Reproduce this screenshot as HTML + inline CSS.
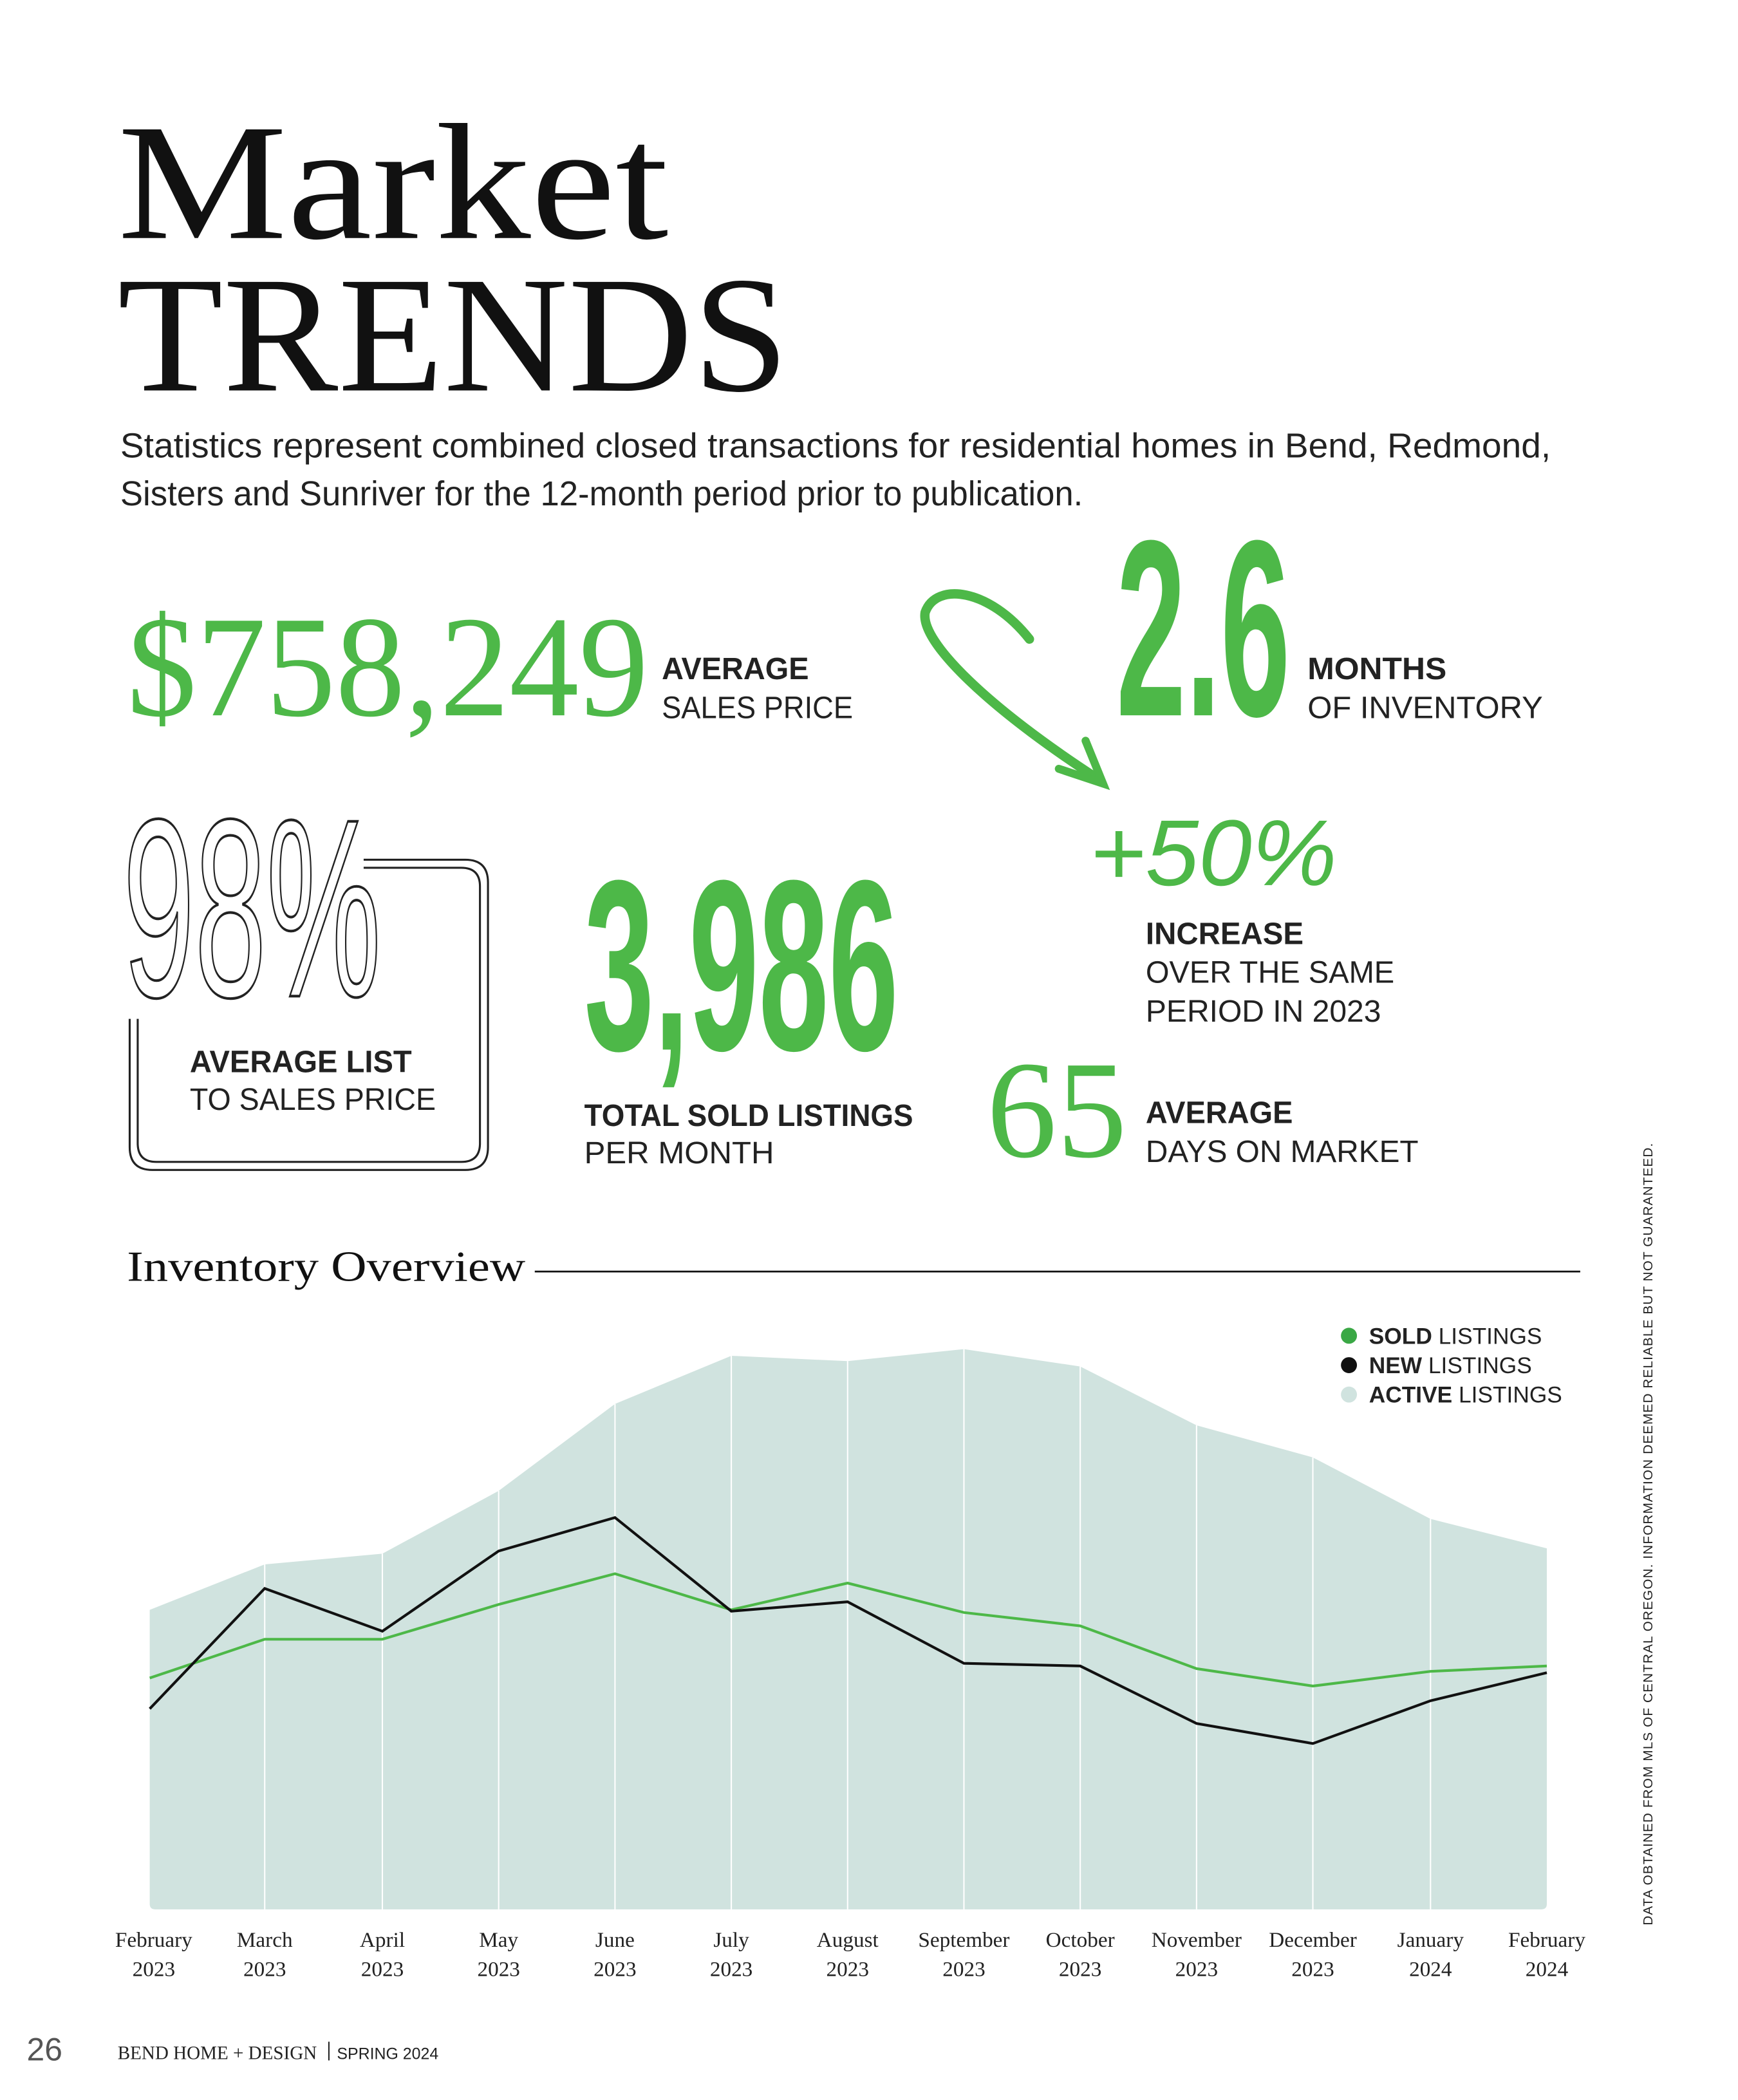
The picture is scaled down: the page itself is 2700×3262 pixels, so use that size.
<!DOCTYPE html>
<html><head><meta charset="utf-8"><style>
html,body{margin:0;padding:0;background:#fff}
svg{display:block}
.sans{font-family:"Liberation Sans",sans-serif}
.serif{font-family:"Liberation Serif",serif}
</style></head><body>
<svg width="2700" height="3262" viewBox="0 0 1300 1570.6" xmlns="http://www.w3.org/2000/svg">
<rect width="1300" height="1571" fill="#fff"/>
<!-- Title -->
<text x="88" y="178" class="serif" font-size="124" fill="#111" textLength="412" lengthAdjust="spacingAndGlyphs">Market</text>
<text x="88" y="292" class="serif" font-size="124" fill="#111" textLength="502" lengthAdjust="spacingAndGlyphs">TRENDS</text>
<text x="90" y="342" class="sans" font-size="26" fill="#222" textLength="1070" lengthAdjust="spacingAndGlyphs">Statistics represent combined closed transactions for residential homes in Bend, Redmond,</text>
<text x="90" y="378" class="sans" font-size="26" fill="#222" textLength="720" lengthAdjust="spacingAndGlyphs">Sisters and Sunriver for the 12-month period prior to publication.</text>

<!-- price -->
<text x="95" y="535" class="serif" font-size="108" fill="#4db848" textLength="390" lengthAdjust="spacingAndGlyphs">$758,249</text>
<text x="495" y="508" class="sans" font-size="23" font-weight="bold" fill="#222" textLength="110" lengthAdjust="spacingAndGlyphs">AVERAGE</text>
<text x="495" y="537" class="sans" font-size="23" fill="#222" textLength="143" lengthAdjust="spacingAndGlyphs">SALES PRICE</text>

<!-- 2.6 -->
<text x="835" y="535" class="sans" font-size="188" font-weight="bold" fill="#4db848" textLength="130" lengthAdjust="spacingAndGlyphs">2.6</text>
<text x="978" y="508" class="sans" font-size="23" font-weight="bold" fill="#222" textLength="104" lengthAdjust="spacingAndGlyphs">MONTHS</text>
<text x="978" y="537" class="sans" font-size="23" fill="#222" textLength="176" lengthAdjust="spacingAndGlyphs">OF INVENTORY</text>

<!-- arrow -->
<path d="M770,478 C740,440 700,435 692,458 C688,480 740,530 822,583" fill="none" stroke="#4db848" stroke-width="7" stroke-linecap="round"/>
<path d="M792,575 L825,586 L812,554" fill="none" stroke="#4db848" stroke-width="6" stroke-linecap="round"/>

<!-- +50% -->
<text x="815" y="662" class="sans" font-size="70" font-style="italic" fill="#4db848" textLength="185" lengthAdjust="spacingAndGlyphs">+50%</text>
<text x="857" y="706" class="sans" font-size="23" font-weight="bold" fill="#222" textLength="118" lengthAdjust="spacingAndGlyphs">INCREASE</text>
<text x="857" y="735" class="sans" font-size="23" fill="#222" textLength="186" lengthAdjust="spacingAndGlyphs">OVER THE SAME</text>
<text x="857" y="764" class="sans" font-size="23" fill="#222" textLength="176" lengthAdjust="spacingAndGlyphs">PERIOD IN 2023</text>

<!-- 98% box -->
<path d="M272,643 H348 Q365,643 365,660 V858 Q365,875 348,875 H114 Q97,875 97,858 V762" fill="none" stroke="#222" stroke-width="1.5"/>
<path d="M272,649 H345 Q359,649 359,663 V855 Q359,869 345,869 H117 Q103,869 103,855 V762" fill="none" stroke="#222" stroke-width="1.5"/>
<text x="92" y="745" class="sans" font-size="190" fill="#fff" stroke="#222" stroke-width="2" textLength="193" lengthAdjust="spacingAndGlyphs">98%</text>
<text x="142" y="802" class="sans" font-size="23" font-weight="bold" fill="#222" textLength="166" lengthAdjust="spacingAndGlyphs">AVERAGE LIST</text>
<text x="142" y="830" class="sans" font-size="23" fill="#222" textLength="184" lengthAdjust="spacingAndGlyphs">TO SALES PRICE</text>

<!-- 3,986 -->
<text x="437" y="785" class="sans" font-size="182" font-weight="bold" fill="#4db848" textLength="235" lengthAdjust="spacingAndGlyphs">3,986</text>
<text x="437" y="842" class="sans" font-size="23" font-weight="bold" fill="#222" textLength="246" lengthAdjust="spacingAndGlyphs">TOTAL SOLD LISTINGS</text>
<text x="437" y="870" class="sans" font-size="23" fill="#222" textLength="142" lengthAdjust="spacingAndGlyphs">PER MONTH</text>

<!-- 65 -->
<text x="738" y="865" class="serif" font-size="104" fill="#4db848" textLength="105" lengthAdjust="spacingAndGlyphs">65</text>
<text x="857" y="840" class="sans" font-size="23" font-weight="bold" fill="#222" textLength="110" lengthAdjust="spacingAndGlyphs">AVERAGE</text>
<text x="857" y="869" class="sans" font-size="23" fill="#222" textLength="204" lengthAdjust="spacingAndGlyphs">DAYS ON MARKET</text>

<!-- Inventory overview -->
<text x="95" y="958" class="serif" font-size="32" fill="#111" textLength="298" lengthAdjust="spacingAndGlyphs">Inventory Overview</text>
<line x1="400" y1="951" x2="1182" y2="951" stroke="#111" stroke-width="1.3"/>

<!-- chart -->
<path d="M112,1204 L198,1170 L286,1162 L373,1115 L460,1050 L547,1014 L634,1018 L721,1009 L808,1022 L895,1066 L982,1090 L1070,1136 L1157,1158 L1157,1424 Q1157,1428 1153,1428 L116,1428 Q112,1428 112,1424 Z" fill="#d0e3df"/>
<g stroke="#fff" stroke-width="1">
<line x1="198" y1="1170" x2="198" y2="1428"/><line x1="286" y1="1162" x2="286" y2="1428"/><line x1="373" y1="1115" x2="373" y2="1428"/><line x1="460" y1="1050" x2="460" y2="1428"/><line x1="547" y1="1014" x2="547" y2="1428"/><line x1="634" y1="1018" x2="634" y2="1428"/><line x1="721" y1="1009" x2="721" y2="1428"/><line x1="808" y1="1022" x2="808" y2="1428"/><line x1="895" y1="1066" x2="895" y2="1428"/><line x1="982" y1="1090" x2="982" y2="1428"/><line x1="1070" y1="1136" x2="1070" y2="1428"/>
</g>
<polyline points="112,1255 198,1226 286,1226 373,1200 460,1177 547,1204 634,1184 721,1206 808,1216 895,1248 982,1261 1070,1250 1157,1246" fill="none" stroke="#4db848" stroke-width="2"/>
<polyline points="112,1278 198,1188 286,1220 373,1160 460,1135 547,1205 634,1198 721,1244 808,1246 895,1289 982,1304 1070,1272 1157,1251" fill="none" stroke="#111" stroke-width="2"/>

<!-- legend -->
<circle cx="1009" cy="999" r="6" fill="#3aa845"/>
<circle cx="1009" cy="1021" r="6" fill="#111"/>
<circle cx="1009" cy="1043" r="6" fill="#d0e3df"/>
<g class="sans" font-size="17" fill="#222">
<text x="1024" y="1005"><tspan font-weight="bold">SOLD</tspan> LISTINGS</text>
<text x="1024" y="1027"><tspan font-weight="bold">NEW</tspan> LISTINGS</text>
<text x="1024" y="1049"><tspan font-weight="bold">ACTIVE</tspan> LISTINGS</text>
</g>

<!-- month labels -->
<g class="serif" font-size="16" fill="#222" text-anchor="middle">
<text x="115" y="1456">February</text><text x="115" y="1478">2023</text>
<text x="198" y="1456">March</text><text x="198" y="1478">2023</text>
<text x="286" y="1456">April</text><text x="286" y="1478">2023</text>
<text x="373" y="1456">May</text><text x="373" y="1478">2023</text>
<text x="460" y="1456">June</text><text x="460" y="1478">2023</text>
<text x="547" y="1456">July</text><text x="547" y="1478">2023</text>
<text x="634" y="1456">August</text><text x="634" y="1478">2023</text>
<text x="721" y="1456">September</text><text x="721" y="1478">2023</text>
<text x="808" y="1456">October</text><text x="808" y="1478">2023</text>
<text x="895" y="1456">November</text><text x="895" y="1478">2023</text>
<text x="982" y="1456">December</text><text x="982" y="1478">2023</text>
<text x="1070" y="1456">January</text><text x="1070" y="1478">2024</text>
<text x="1157" y="1456">February</text><text x="1157" y="1478">2024</text>
</g>

<!-- vertical disclaimer -->
<text transform="translate(1236,1440) rotate(-90)" class="sans" font-size="10" fill="#222" textLength="585" lengthAdjust="spacing">DATA OBTAINED FROM MLS OF CENTRAL OREGON. INFORMATION DEEMED RELIABLE BUT NOT GUARANTEED.</text>

<!-- footer -->
<text x="20" y="1541" class="sans" font-size="24" fill="#555">26</text>
<text x="88" y="1540" class="serif" font-size="14" fill="#222">BEND HOME + DESIGN</text>
<line x1="246" y1="1527" x2="246" y2="1541" stroke="#222" stroke-width="1"/>
<text x="252" y="1540" class="sans" font-size="12" fill="#222">SPRING 2024</text>
</svg>
</body></html>
